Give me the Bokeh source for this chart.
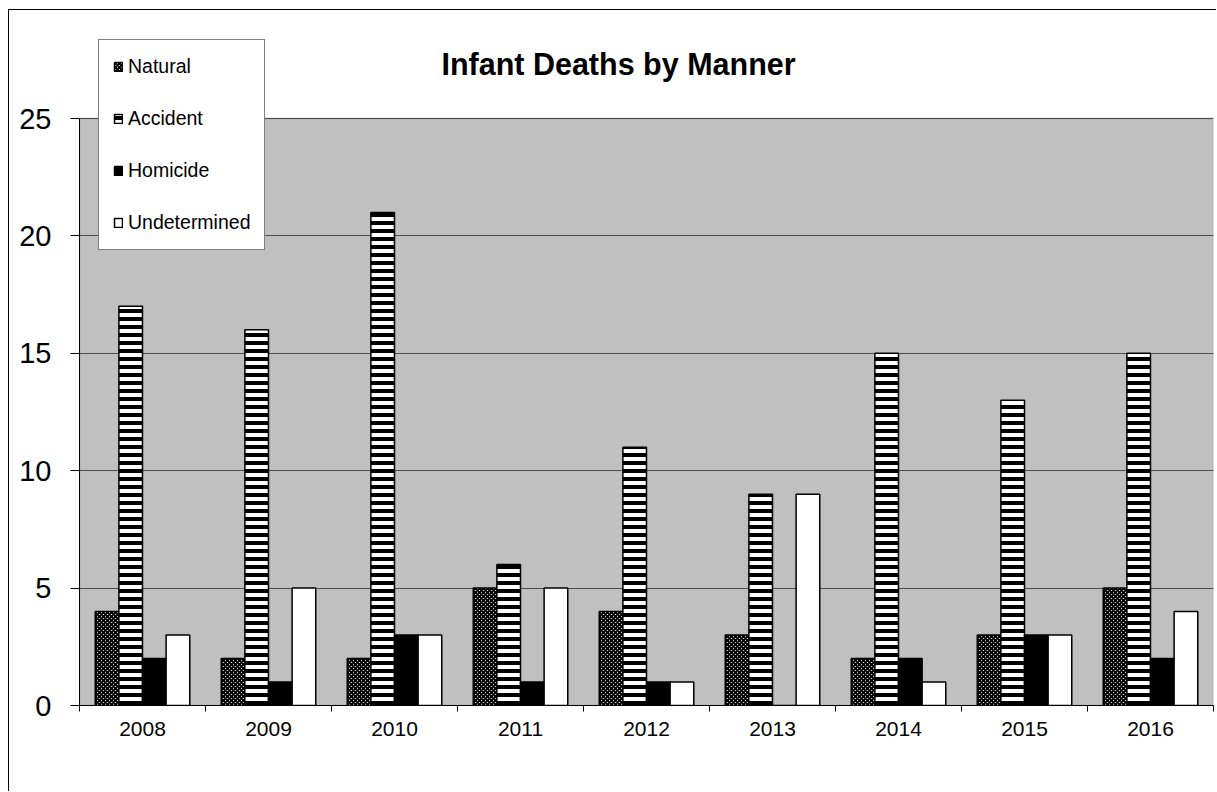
from bokeh.plotting import figure
from bokeh.models import (ColumnDataSource, FixedTicker, Legend, LegendItem,
                          Label, Range1d, BoxAnnotation)
from bokeh.transform import dodge
from bokeh.embed import file_html
from bokeh.resources import INLINE

# ---- data ----
years = ["2008", "2009", "2010", "2011", "2012", "2013", "2014", "2015", "2016"]
natural = [4, 2, 2, 5, 4, 3, 2, 3, 5]
accident = [17, 16, 21, 6, 11, 9, 15, 13, 15]
homicide = [2, 1, 3, 1, 1, 0, 2, 3, 2]
undetermined = [3, 5, 3, 5, 1, 9, 1, 3, 4]
series_names = ["Natural", "Accident", "Homicide", "Undetermined"]
y_ticks = [0, 5, 10, 15, 20, 25]
y_max = 25

FONT = "Liberation Sans"
n = len(years)

# layout (pixels)
FRAME_TOP, PLOT_TOP, PLOT_BOTTOM = 30, 118, 705
px_per_unit = (PLOT_BOTTOM - PLOT_TOP) / y_max
y_top = y_max + (PLOT_TOP - FRAME_TOP) / px_per_unit

src = ColumnDataSource(dict(
    pos=[i + 0.5 for i in range(n)],
    Natural=natural, Accident=accident, Homicide=homicide, Undetermined=undetermined,
))

p = figure(width=1208, height=782,
           x_range=Range1d(0, n), y_range=Range1d(0, y_top),
           output_backend="svg", toolbar_location=None,
           min_border_left=70, min_border_right=4,
           min_border_top=FRAME_TOP - 10, min_border_bottom=792 - PLOT_BOTTOM)

p.background_fill_color = "white"
p.border_fill_color = "white"
p.outline_line_color = None
p.styles = {"margin-left": "8px", "margin-top": "9px",
            "border-left": "1px solid #000000", "border-top": "1px solid #000000"}

# gray plot area (0..25)
p.add_layout(BoxAnnotation(bottom=0, top=y_max, fill_color="#c0c0c0", fill_alpha=1.0,
                           line_color="#808080", line_width=2, level="image"))

bw = 0.75 / 4
styles = {
    "Natural": dict(fill_color="white", hatch_pattern="diagonal_cross",
                    hatch_color="black", hatch_scale=4, hatch_weight=2),
    "Accident": dict(fill_color="white", hatch_pattern="horizontal_line",
                     hatch_color="black", hatch_scale=8, hatch_weight=4),
    "Homicide": dict(fill_color="black"),
    "Undetermined": dict(fill_color="white"),
}

items = []
for k, name in enumerate(series_names):
    r = p.vbar(x=dodge("pos", (k - 1.5) * bw, range=p.x_range), top=name,
               width=bw, bottom=0, source=src,
               line_color="black", line_width=1.5, **styles[name])
    items.append(LegendItem(label=name, renderers=[r]))

# axes
p.yaxis.ticker = FixedTicker(ticks=y_ticks)
p.yaxis.bounds = (0, y_max)
p.yaxis.major_tick_out = 9
p.yaxis.major_tick_in = 0
p.yaxis.minor_tick_out = 0
p.yaxis.minor_tick_in = 0
p.yaxis.axis_line_color = "black"
p.yaxis.major_tick_line_color = "black"
p.yaxis.major_label_text_font = FONT
p.yaxis.major_label_text_font_size = "29px"
p.yaxis.major_label_text_color = "black"
p.yaxis.major_label_standoff = 19

p.xaxis.ticker = FixedTicker(ticks=[i + 0.5 for i in range(n)],
                             minor_ticks=list(range(n + 1)))
p.xaxis.major_label_overrides = {i + 0.5: y for i, y in enumerate(years)}
p.xaxis.major_tick_out = 0
p.xaxis.major_tick_in = 0
p.xaxis.minor_tick_out = 6
p.xaxis.minor_tick_in = 0
p.xaxis.minor_tick_line_color = "black"
p.xaxis.axis_line_color = "black"
p.xaxis.major_label_text_font = FONT
p.xaxis.major_label_text_font_size = "21px"
p.xaxis.major_label_text_color = "black"
p.xaxis.major_label_standoff = 10

p.xgrid.visible = False
p.ygrid.ticker = FixedTicker(ticks=y_ticks[1:])
p.ygrid.grid_line_color = "#4d4d4d"
p.ygrid.grid_line_width = 1

legend = Legend(items=items, location=(19, 455),
                border_line_color="black", border_line_width=1,
                background_fill_color="white", background_fill_alpha=1.0,
                label_text_font=FONT, label_text_font_size="19.5px",
                label_text_color="black",
                glyph_width=10, glyph_height=11, label_standoff=5,
                padding=14, spacing=27, label_height=25, margin=0)
p.add_layout(legend)

title = Label(x=539, y=642, x_units="screen", y_units="screen",
              text="Infant Deaths by Manner", text_font=FONT,
              text_font_size="30.5px", text_font_style="bold",
              text_align="center", text_baseline="alphabetic",
              text_color="black")
p.add_layout(title)

open("out.html", "w").write(file_html(p, INLINE))
